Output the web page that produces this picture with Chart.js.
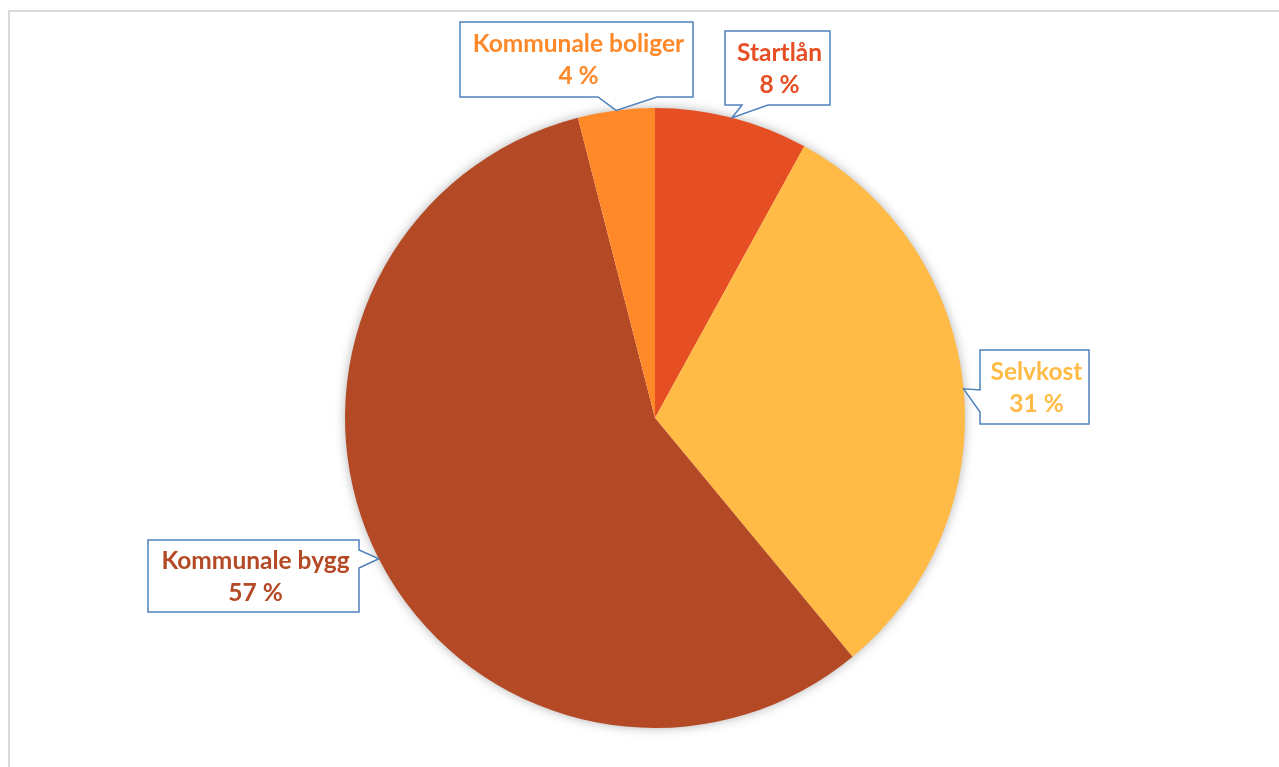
<!DOCTYPE html>
<html>
<head>
<meta charset="utf-8">
<script src="https://cdn.jsdelivr.net/npm/chart.js@4/dist/chart.umd.min.js"></script>
<style>
  body { margin: 0; background: #fff; }
  #wrap { width: 1279px; height: 767px; }
</style>
</head>
<body>
<div id="wrap"><canvas id="fondPie" width="1279" height="767"></canvas></div>
<script>
const labels = ["Startlån", "Selvkost", "Kommunale bygg", "Kommunale boliger"];
const shares = [8, 31, 57, 4];
const sliceColors = ["#E64E23", "#FFBB45", "#B44A25", "#FF8829"];

// callout boxes, one per slice (same order as labels)
const calloutBoxes = [
  { x: 725, y: 31, w: 105, h: 74, side: "bottom", base: [742, 768] },
  { x: 980, y: 350, w: 109, h: 74, side: "left", base: [390, 412] },
  { x: 148, y: 540, w: 211, h: 72, side: "right", base: [550, 568] },
  { x: 460, y: 22, w: 233, h: 75, side: "bottom", base: [598, 657] },
];

const frame = {
  id: "frame",
  beforeDraw(chart) {
    const ctx = chart.ctx;
    ctx.save();
    ctx.strokeStyle = "#d9d9d9";
    ctx.lineWidth = 2;
    ctx.strokeRect(9, 11, 1300, 800);
    ctx.restore();
  }
};

// soft shadow behind the whole pie
const pieShadow = {
  id: "pieShadow",
  beforeDatasetsDraw(chart) {
    const arc = chart.getDatasetMeta(0).data[0];
    if (!arc) return;
    const ctx = chart.ctx;
    ctx.save();
    ctx.shadowColor = "rgba(0,0,0,0.35)";
    ctx.shadowBlur = 12;
    ctx.fillStyle = "#fff";
    ctx.beginPath();
    ctx.arc(arc.x, arc.y, arc.outerRadius - 1, 0, Math.PI * 2);
    ctx.fill();
    ctx.restore();
  }
};

const callouts = {
  id: "callouts",
  afterDatasetsDraw(chart) {
    const ctx = chart.ctx;
    const meta = chart.getDatasetMeta(0);
    const total = shares.reduce((a, b) => a + b, 0);
    meta.data.forEach((arc, i) => {
      const b = calloutBoxes[i];
      const mid = (arc.startAngle + arc.endAngle) / 2;
      const tx = arc.x + Math.cos(mid) * arc.outerRadius;
      const ty = arc.y + Math.sin(mid) * arc.outerRadius;
      const x0 = b.x, y0 = b.y, x1 = b.x + b.w, y1 = b.y + b.h;
      const pts = [[x0, y0], [x1, y0]];
      if (b.side === "right") pts.push([x1, b.base[0]], [tx, ty], [x1, b.base[1]]);
      pts.push([x1, y1]);
      if (b.side === "bottom") pts.push([b.base[1], y1], [tx, ty], [b.base[0], y1]);
      pts.push([x0, y1]);
      if (b.side === "left") pts.push([x0, b.base[1]], [tx, ty], [x0, b.base[0]]);

      ctx.save();
      ctx.beginPath();
      pts.forEach((p, k) => (k ? ctx.lineTo(p[0], p[1]) : ctx.moveTo(p[0], p[1])));
      ctx.closePath();
      ctx.fillStyle = "#fff";
      ctx.fill();
      ctx.strokeStyle = "#4F81BD";
      ctx.lineWidth = 1.5;
      ctx.lineJoin = "miter";
      ctx.stroke();

      const cx = b.x + b.w / 2, cy = b.y + b.h / 2;
      ctx.fillStyle = sliceColors[i];
      ctx.font = "bold 24.5px Lato";
      ctx.textAlign = "center";
      ctx.textBaseline = "middle";
      ctx.fillText(labels[i], cx + 2, cy - 15);
      ctx.fillText(Math.round(shares[i] / total * 100) + " %", cx + 2, cy + 17);
      ctx.restore();
    });
  }
};

new Chart("fondPie", {
  type: "pie",
  data: {
    labels: labels,
    datasets: [{
      data: shares,
      backgroundColor: sliceColors,
      borderWidth: 0,
      hoverOffset: 0,
    }]
  },
  options: {
    responsive: false,
    animation: false,
    events: [],
    layout: { padding: { top: 108, bottom: 39, left: 345, right: 314 } },
    plugins: {
      legend: { display: false },
      tooltip: { enabled: false },
    }
  },
  plugins: [frame, pieShadow, callouts]
});
</script>
</body>
</html>
